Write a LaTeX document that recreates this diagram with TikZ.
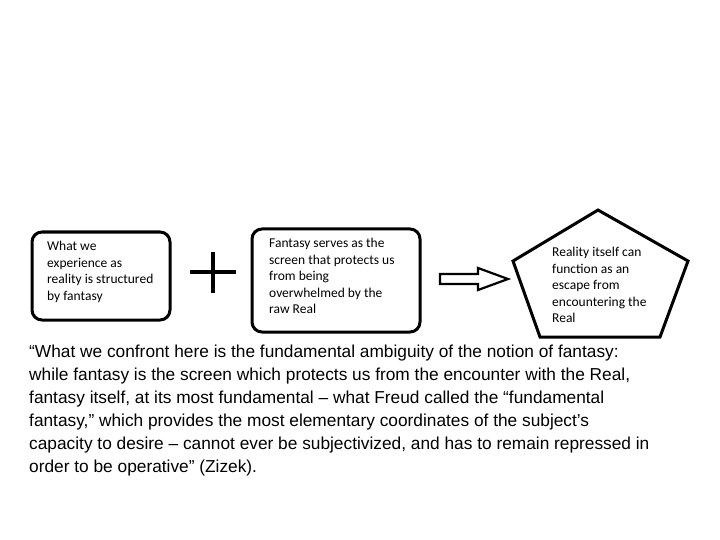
\documentclass[tikz,border=0pt]{standalone}
\usepackage{fontspec}
\setmainfont{Liberation Sans}
\newfontfamily\calfont{Carlito}
\begin{document}
\begin{tikzpicture}[x=1pt,y=-1pt,
  box/.style={draw,line width=3pt,rounded corners=10pt,anchor=north west},
  btxt/.style={anchor=north west,align=left,font=\calfont\fontsize{13.5}{16.5}\selectfont,inner sep=0pt}]
\useasboundingbox (0,0) rectangle (720,540);
\draw[box] (32,232) rectangle (170,320);
\node[btxt] (t1) at (47,241) {What we\\experience as\\reality is structured\\by fantasy};
\draw[box] (252,229) rectangle (420,332);
\node[btxt] (t2) at (269,238) {Fantasy serves as the\\screen that protects us\\from being\\overwhelmed by the\\raw Real};
\draw[line width=3.5pt] (190,272) -- (236,272) (213,252) -- (213,293);
\draw[line width=2.2pt] (440,274) -- (478,274) -- (478,268) -- (508,279) -- (478,290) -- (478,284) -- (440,284) -- cycle;
\draw[line width=3pt,line join=miter] (598,210) -- (688,261) -- (660,337) -- (540,337) -- (513,261) -- cycle;
\node[btxt] (t3) at (552,247) {Reality itself can\\function as an\\escape from\\encountering the\\Real};
\node[anchor=north west,align=left,inner sep=0pt,font=\fontsize{17.3}{23}\selectfont] (q) at (29,345)
{“What we confront here is the fundamental ambiguity of the notion of fantasy:\\
while fantasy is the screen which protects us from the encounter with the Real,\\
fantasy itself, at its most fundamental – what Freud called the “fundamental\\
fantasy,” which provides the most elementary coordinates of the subject’s\\
capacity to desire – cannot ever be subjectivized, and has to remain repressed in\\
order to be operative” (Zizek).};
\end{tikzpicture}
\end{document}
